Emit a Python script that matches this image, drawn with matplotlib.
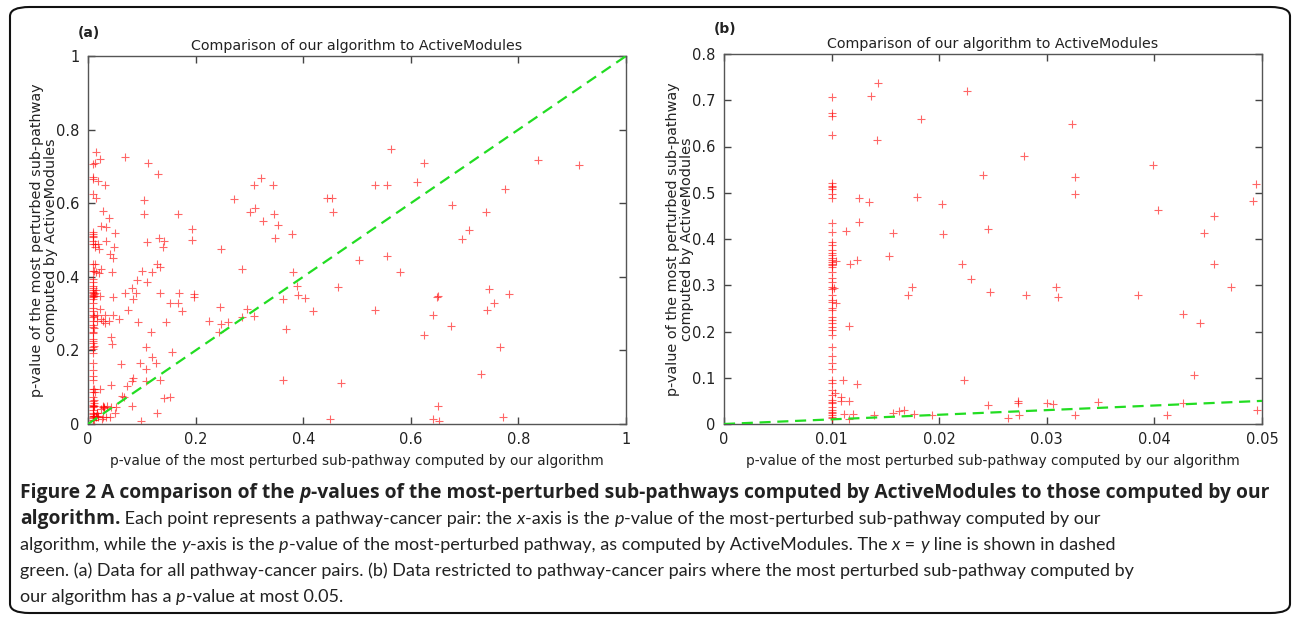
import matplotlib
matplotlib.use('Agg')
import matplotlib.pyplot as plt
from matplotlib.patches import FancyBboxPatch

# p-values at x = 0.01 (the vertical column in panel b)
col_y = [0.706, 0.672, 0.667, 0.625, 0.522, 0.515, 0.512, 0.509, 0.497, 0.489,
         0.435, 0.416, 0.393, 0.387, 0.376, 0.370, 0.365, 0.358, 0.355, 0.351,
         0.347, 0.344, 0.340, 0.329, 0.315, 0.308, 0.297, 0.291, 0.279, 0.268,
         0.264, 0.250, 0.246, 0.231, 0.225, 0.219, 0.210, 0.203, 0.192, 0.167,
         0.147, 0.131, 0.120, 0.095, 0.088, 0.074, 0.063, 0.052, 0.048, 0.045,
         0.037, 0.030, 0.027, 0.023, 0.019, 0.016, 0.012]

# other points with our p-value <= 0.05
small_x = [0.01434, 0.01363, 0.02255, 0.01831, 0.01419, 0.02404, 0.01258, 0.01351,
           0.01791, 0.02029, 0.01252, 0.01131, 0.01568, 0.02033, 0.02457, 0.01038,
           0.01168, 0.01233, 0.01533, 0.02215, 0.02296, 0.02472, 0.01025, 0.01744,
           0.01707, 0.01038, 0.01165, 0.01103, 0.01233, 0.02230, 0.01032, 0.01084,
           0.01084, 0.01165, 0.02457, 0.01118, 0.01202, 0.01165, 0.01397, 0.01568,
           0.01623, 0.01676, 0.01766, 0.01930, 0.03237, 0.02791, 0.03262, 0.03262,
           0.03990, 0.04944, 0.04919, 0.04031, 0.04554, 0.04464, 0.04554, 0.02807,
           0.03082, 0.03107, 0.03845, 0.04709, 0.04269, 0.04424, 0.04368, 0.02735,
           0.02735, 0.02642, 0.02742, 0.03005, 0.03060, 0.03262, 0.03479, 0.04120,
           0.04269, 0.04951]
small_y = [0.738, 0.710, 0.721, 0.659, 0.614, 0.539, 0.489, 0.480,
           0.490, 0.475, 0.436, 0.417, 0.414, 0.410, 0.421, 0.353,
           0.347, 0.355, 0.363, 0.347, 0.313, 0.285, 0.293, 0.296,
           0.280, 0.261, 0.211, 0.096, 0.086, 0.096, 0.066, 0.058,
           0.050, 0.050, 0.041, 0.022, 0.022, 0.010, 0.019, 0.023,
           0.029, 0.030, 0.021, 0.019, 0.649, 0.580, 0.535, 0.497,
           0.560, 0.518, 0.482, 0.463, 0.450, 0.414, 0.346, 0.280,
           0.297, 0.275, 0.280, 0.297, 0.237, 0.218, 0.107, 0.050,
           0.045, 0.014, 0.019, 0.045, 0.043, 0.019, 0.048, 0.019,
           0.045, 0.030]

# points with our p-value > 0.05 (only in panel a)
big_x = [0.0688, 0.112, 0.1295, 0.104, 0.104, 0.167, 0.194, 0.194, 0.1326, 0.142,
         0.140, 0.109, 0.2466, 0.272, 0.302, 0.311, 0.309, 0.321, 0.326, 0.343,
         0.346, 0.354, 0.380, 0.348, 0.445, 0.453, 0.456, 0.5626, 0.6245, 0.5335,
         0.556, 0.611, 0.836, 0.913, 0.775, 0.677, 0.739, 0.709, 0.695, 0.5037,
         0.556, 0.579, 0.465, 0.419, 0.5335, 0.650, 0.648, 0.642, 0.674, 0.6245,
         0.745, 0.755, 0.7825, 0.741, 0.766, 0.730, 0.470, 0.650, 0.4498, 0.642,
         0.653, 0.772, 0.129, 0.134, 0.101, 0.119, 0.109, 0.0905, 0.081, 0.0688,
         0.0886, 0.084, 0.075, 0.134, 0.170, 0.197, 0.197, 0.168, 0.152, 0.174,
         0.245, 0.296, 0.3085, 0.225, 0.2466, 0.261, 0.2435, 0.1444, 0.0935, 0.0576,
         0.1177, 0.1555, 0.1085, 0.1183, 0.096, 0.126, 0.0607, 0.1085, 0.0842, 0.081,
         0.1085, 0.134, 0.0719, 0.0626, 0.067, 0.1413, 0.152, 0.0824, 0.0527, 0.1277,
         0.098, 0.2857, 0.3816, 0.388, 0.3897, 0.4033, 0.362, 0.3674, 0.362, 0.2857]
big_y = [0.726, 0.708, 0.678, 0.608, 0.570, 0.572, 0.529, 0.500, 0.505, 0.496,
         0.480, 0.495, 0.476, 0.612, 0.576, 0.586, 0.650, 0.668, 0.552, 0.649,
         0.572, 0.540, 0.517, 0.505, 0.615, 0.613, 0.576, 0.748, 0.708, 0.649,
         0.649, 0.658, 0.717, 0.703, 0.638, 0.595, 0.576, 0.527, 0.504, 0.447,
         0.456, 0.412, 0.372, 0.307, 0.311, 0.349, 0.345, 0.295, 0.267, 0.2425,
         0.368, 0.329, 0.354, 0.311, 0.209, 0.136, 0.1126, 0.049, 0.0136, 0.0128,
         0.008, 0.018, 0.436, 0.426, 0.415, 0.412, 0.386, 0.391, 0.370, 0.356,
         0.356, 0.339, 0.311, 0.356, 0.356, 0.354, 0.344, 0.330, 0.330, 0.307,
         0.317, 0.3125, 0.294, 0.279, 0.273, 0.278, 0.250, 0.278, 0.278, 0.284,
         0.250, 0.195, 0.209, 0.181, 0.165, 0.165, 0.163, 0.150, 0.126, 0.118,
         0.118, 0.119, 0.102, 0.077, 0.074, 0.071, 0.073, 0.050, 0.047, 0.029,
         0.008, 0.420, 0.412, 0.376, 0.350, 0.342, 0.341, 0.259, 0.120, 0.291]

xb = [0.01] * len(col_y) + small_x
yb = col_y + small_y
xa = xb + big_x
ya = yb + big_y

W, H = 1293, 617
fig = plt.figure(figsize=(W / 100, H / 100), dpi=100)

title = 'Comparison of our algorithm to ActiveModules'
xlab = 'p-value of the most perturbed sub-pathway computed by our algorithm'
ylab = 'p-value of the most perturbed sub-pathway\ncomputed by ActiveModules'
txtc = '#222222'


def setup(ax, xmax, ymax, xt, yt, xtl, ytl):
    ax.set_xlim(0, xmax)
    ax.set_ylim(0, ymax)
    ax.set_xticks(xt)
    ax.set_yticks(yt)
    ax.set_xticklabels(xtl)
    ax.set_yticklabels(ytl)
    ax.tick_params(direction='in', length=5, width=1, color='#444444',
                   top=True, right=True, labelsize=10.5, labelcolor=txtc, pad=6)
    for s in ax.spines.values():
        s.set_color('#555555')
        s.set_linewidth(1)
    ax.set_title(title, fontsize=10.3, color=txtc, pad=4)
    ax.set_xlabel(xlab, fontsize=9.9, color=txtc, labelpad=5)
    ax.set_ylabel(ylab, fontsize=10.4, color=txtc, labelpad=-1, linespacing=0.95)


axa = fig.add_axes([88 / W, 1 - 424 / H, 538 / W, 368 / H])
axa.plot([0, 1], [0, 1], color='#22dd22', lw=1.6, dashes=(5, 3), zorder=3)
axa.plot(xa, ya, '+', color='red', ms=5.5, mew=0.8, alpha=0.6, zorder=2)
setup(axa, 1, 1, [0, 0.2, 0.4, 0.6, 0.8, 1], [0, 0.2, 0.4, 0.6, 0.8, 1],
      ['0', '0.2', '0.4', '0.6', '0.8', '1'], ['0', '0.2', '0.4', '0.6', '0.8', '1'])

axb = fig.add_axes([724 / W, 1 - 424 / H, 538 / W, 370 / H])
axb.plot([0, 0.05], [0, 0.05], color='#22dd22', lw=1.6, dashes=(5, 3), zorder=3)
axb.plot(xb, yb, '+', color='red', ms=5.5, mew=0.8, alpha=0.6, zorder=2)
setup(axb, 0.05, 0.8, [0, 0.01, 0.02, 0.03, 0.04, 0.05],
      [0, 0.1, 0.2, 0.3, 0.4, 0.5, 0.6, 0.7, 0.8],
      ['0', '0.01', '0.02', '0.03', '0.04', '0.05'],
      ['0', '0.1', '0.2', '0.3', '0.4', '0.5', '0.6', '0.7', '0.8'])

fig.text(78 / W, 1 - 33 / H, '(a)', fontsize=10, fontweight='bold', color=txtc, va='center')
fig.text(714 / W, 1 - 29 / H, '(b)', fontsize=10, fontweight='bold', color=txtc, va='center')

# border
box = FancyBboxPatch((10 / W, 1 - 613 / H), 1280 / W, 606 / H,
                     boxstyle='round,pad=0,rounding_size=0.015',
                     transform=fig.transFigure, fill=False, ec='#111111', lw=1.5)
fig.add_artist(box)

# caption
cap = [
    [('Figure 2 A comparison of the ', 'bold', 'normal'), ('p', 'bold', 'italic'),
     ('-values of the most-perturbed sub-pathways computed by ActiveModules to those computed by our', 'bold', 'normal')],
    [('algorithm.', 'bold', 'normal'), (' Each point represents a pathway-cancer pair: the ', 'normal', 'normal'),
     ('x', 'normal', 'italic'), ('-axis is the ', 'normal', 'normal'), ('p', 'normal', 'italic'),
     ('-value of the most-perturbed sub-pathway computed by our', 'normal', 'normal')],
    [('algorithm, while the ', 'normal', 'normal'), ('y', 'normal', 'italic'), ('-axis is the ', 'normal', 'normal'),
     ('p', 'normal', 'italic'),
     ('-value of the most-perturbed pathway, as computed by ActiveModules. The ', 'normal', 'normal'),
     ('x', 'normal', 'italic'), (' = ', 'normal', 'normal'), ('y', 'normal', 'italic'),
     (' line is shown in dashed', 'normal', 'normal')],
    [('green. (a) Data for all pathway-cancer pairs. (b) Data restricted to pathway-cancer pairs where the most perturbed sub-pathway computed by', 'normal', 'normal')],
    [('our algorithm has a ', 'normal', 'normal'), ('p', 'normal', 'italic'),
     ('-value at most 0.05.', 'normal', 'normal')],
]
base = [498, 524, 550, 576, 602]
r = fig.canvas.get_renderer()
for line, yb_ in zip(cap, base):
    x = 20
    for s, w, st in line:
        if w == 'bold':
            fam, fs = 'Open Sans', 13.9
        else:
            fam, fs = 'Lato', 13
        t = fig.text(x / W, 1 - yb_ / H, s, fontsize=fs, fontweight=w, fontstyle=st,
                     family=fam, color=txtc, va='baseline', ha='left')
        x += t.get_window_extent(renderer=r).width

fig.savefig('out.png', dpi=100)
